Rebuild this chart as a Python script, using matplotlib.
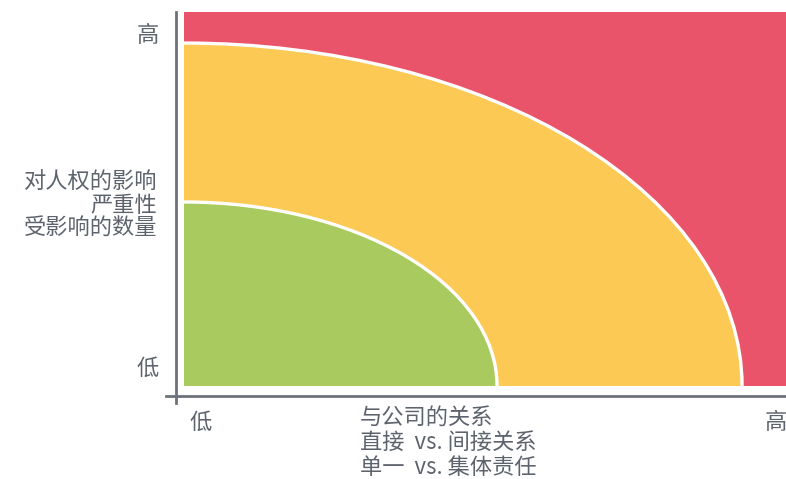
import matplotlib.pyplot as plt
from matplotlib.patches import Ellipse, Rectangle
from matplotlib.lines import Line2D

plt.rcParams['font.family'] = ['Noto Sans CJK SC', 'DejaVu Sans']

# risk zones as quarter ellipses on a 0-10 scale (x radius, y radius)
zones = ['高', '中', '低']
zone_rx = [10.0, 9.27, 5.2]
zone_ry = [10.0, 9.17, 4.92]
zone_colors = ['#ea546a', '#fdc955', '#a8ca5e']

x_ticks = [0.27, 9.83]
y_ticks = [0.53, 9.44]
tick_labels = ['低', '高']

y_label = '对人权的影响\n严重性\n受影响的数量'
x_label = '与公司的关系\n直接  vs. 间接关系\n单一  vs. 集体责任'

text_color = '#5d636d'
axis_color = '#6c717a'

fig = plt.figure(figsize=(7.86, 4.79), dpi=100)
ax = fig.add_axes([184 / 786, 93 / 479, 602 / 786, 374 / 479])
ax.set_xlim(0, 10)
ax.set_ylim(0, 10)

for name, rx, ry, c in zip(zones, zone_rx, zone_ry, zone_colors):
    if name == '高':
        ax.add_patch(Rectangle((0, 0), rx, ry, facecolor=c, edgecolor='none'))
    else:
        ax.add_patch(Ellipse((0, 0), 2 * rx, 2 * ry, facecolor=c,
                             edgecolor='white', linewidth=2.4))

for s in ax.spines.values():
    s.set_visible(False)

ax.set_xticks(x_ticks, tick_labels)
ax.set_yticks(y_ticks, tick_labels)
ax.tick_params(length=0, labelsize=16, colors=text_color)
ax.tick_params(axis='x', pad=18)
ax.tick_params(axis='y', pad=18)

# axis lines, drawn a little away from the plot area
fig.add_artist(Line2D([175.5 / 786, 175.5 / 786], [1 - 12 / 479, 1 - 403 / 479],
                      color=axis_color, linewidth=2))
fig.add_artist(Line2D([166 / 786, 1.0], [1 - 396 / 479, 1 - 396 / 479],
                      color=axis_color, linewidth=2))

fig.text(157 / 786, 1 - 205 / 479, y_label, ha='right', va='center',
         multialignment='right', fontsize=16, color=text_color, linespacing=0.97)
fig.text(360 / 786, 1 - 406 / 479, x_label, ha='left', va='top',
         multialignment='left', fontsize=16, color=text_color, linespacing=1.12)

fig.savefig('out.png', dpi=100)
